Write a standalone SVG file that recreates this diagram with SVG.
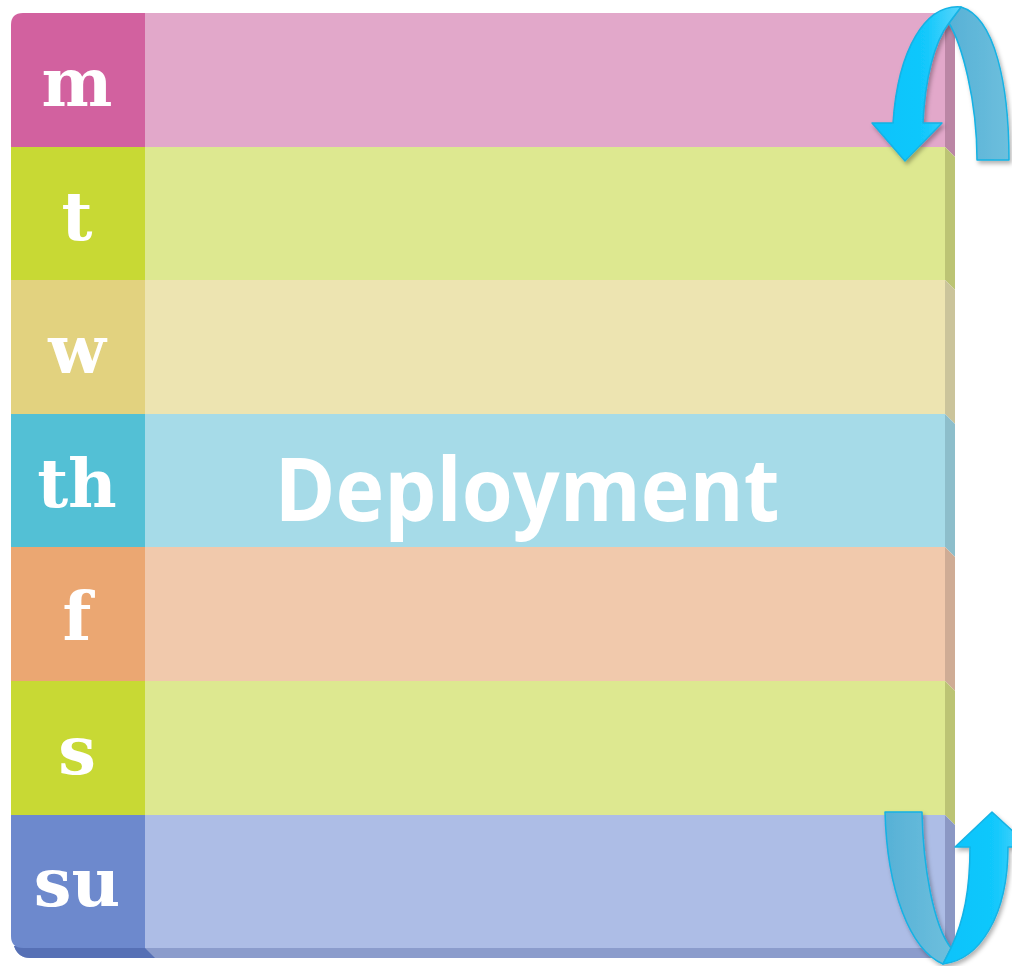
<svg xmlns="http://www.w3.org/2000/svg" width="1012" height="966" viewBox="0 0 1012 966">
<defs>
<style>
.day{font-family:"DejaVu Serif","Liberation Serif",serif;font-weight:bold;font-size:67px;fill:#ffffff;text-anchor:middle}
.title{font-family:"Open Sans","Noto Sans",sans-serif;font-weight:bold;font-size:88px;fill:#ffffff;text-anchor:middle}
.arrow-front{fill:url(#gFront);stroke:#14b2e4;stroke-width:1.5;stroke-linejoin:round}
.arrow-back{fill:url(#gBack);stroke:#14b2e4;stroke-width:1.5;stroke-linejoin:round}
</style>
<linearGradient id="gFront" x1="0" y1="0" x2="1" y2="0">
<stop offset="0" stop-color="#08c3fb"/>
<stop offset="0.6" stop-color="#12c8fc"/>
<stop offset="1" stop-color="#5ad5fb"/>
</linearGradient>
<linearGradient id="gBack" x1="0" y1="0" x2="1" y2="0">
<stop offset="0" stop-color="#57b1d6"/>
<stop offset="1" stop-color="#6dbfdd"/>
</linearGradient>
<clipPath id="faceClip">
<path d="M11,25 Q11,13 23,13 L945,13 L945,948 L23,948 Q11,948 11,936 Z"/>
</clipPath>
<filter id="shadow" x="-20%" y="-20%" width="140%" height="140%">
<feDropShadow dx="2" dy="3" stdDeviation="2" flood-color="#000000" flood-opacity="0.3"/>
</filter>
</defs>
<rect width="1012" height="966" fill="#ffffff"/>

<g id="bottom-face">
<path d="M14,946 L945,948 L955,958 L30,958 Q18,958 14,946 Z" fill="#8b9ccc"/>
<path d="M14,946 L145,948 L155,958 L30,958 Q18,958 14,946 Z" fill="#5670b5"/>
</g>

<g clip-path="url(#faceClip)">
<g id="row-m">
<rect x="11" y="13" width="134" height="134" fill="#d2619f"/>
<rect x="145" y="13" width="800" height="134" fill="#e2a8ca"/>
<text class="day" x="77" y="106">m</text>
</g>
<g id="row-t">
<rect x="11" y="147" width="134" height="134" fill="#c8d934"/>
<rect x="145" y="147" width="800" height="134" fill="#dde890"/>
<text class="day" x="77" y="240">t</text>
</g>
<g id="row-w">
<rect x="11" y="280" width="134" height="134" fill="#e2d27f"/>
<rect x="145" y="280" width="800" height="134" fill="#ede4b1"/>
<text class="day" x="77" y="373">w</text>
</g>
<g id="row-th">
<rect x="11" y="414" width="134" height="134" fill="#53c0d5"/>
<rect x="145" y="414" width="800" height="134" fill="#a6dbe8"/>
<text class="day" x="77" y="507">th</text>
</g>
<g id="row-f">
<rect x="11" y="547" width="134" height="134" fill="#eba772"/>
<rect x="145" y="547" width="800" height="134" fill="#f1c9ac"/>
<text class="day" x="77" y="640">f</text>
</g>
<g id="row-s">
<rect x="11" y="681" width="134" height="134" fill="#c8d934"/>
<rect x="145" y="681" width="800" height="134" fill="#dde890"/>
<text class="day" x="77" y="774">s</text>
</g>
<g id="row-su">
<rect x="11" y="815" width="134" height="133" fill="#6d89cd"/>
<rect x="145" y="815" width="800" height="133" fill="#adbde6"/>
<text class="day" x="77" y="906">su</text>
</g>
</g>

<g id="side-face">
<polygon points="945,13 955,23 955,157 945,147" fill="#bb86a5"/>
<polygon points="945,147 955,157 955,290 945,280" fill="#bcc474"/>
<polygon points="945,280 955,290 955,424 945,414" fill="#cbc49b"/>
<polygon points="945,414 955,424 955,557 945,547" fill="#8dbecb"/>
<polygon points="945,547 955,557 955,691 945,681" fill="#cfac95"/>
<polygon points="945,681 955,691 955,825 945,815" fill="#bcc474"/>
<polygon points="945,815 955,825 955,958 945,948" fill="#8b98c4"/>
</g>

<g id="title">
<text class="title" x="527" y="521" textLength="505" lengthAdjust="spacingAndGlyphs">Deployment</text>
</g>

<g id="connectors">
<g id="arrow-top" filter="url(#shadow)">
<path class="arrow-back" d="M949,23 C962,45 977,100 977,160 L1009,160 C1009,85 995,17 961,7 Z"/>
<path class="arrow-front" d="M961,7 C925,4 898,50 893,123 L872,123 L905,161 L942,123 L923,123 C925,80 934,42 949,23 Z"/>
</g>
<g id="arrow-bottom" filter="url(#shadow)">
<path class="arrow-back" d="M885,812 L922,812 C923,865 933,925 951,948 L943,964 C910,950 887,890 885,812 Z"/>
<path class="arrow-front" d="M943,964 L951,948 C964,920 970,890 970,847 L955,847 L992,812 L1030,847 L1008,847 C1008,915 980,960 943,964 Z"/>
</g>
</g>
</svg>
